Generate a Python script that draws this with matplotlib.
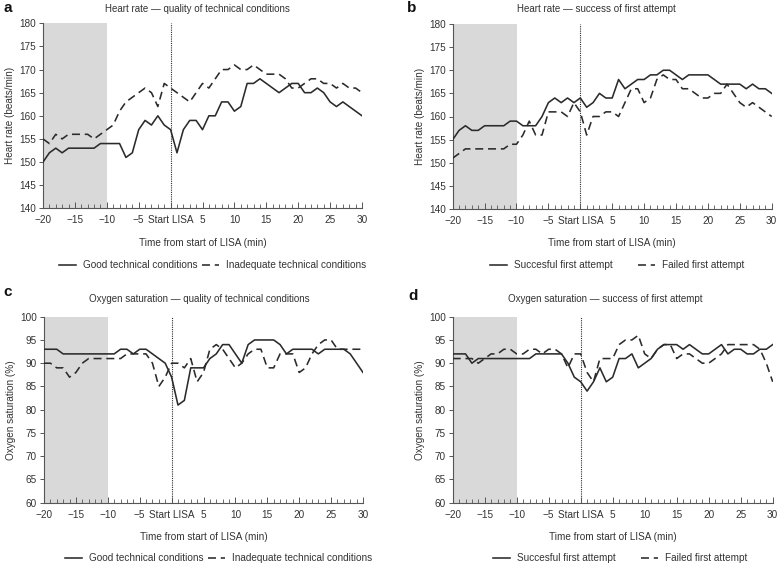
import numpy as np
import matplotlib
matplotlib.use('agg')
import matplotlib.pyplot as plt
from matplotlib.ticker import MultipleLocator

plt.rcParams['font.family'] = ['Liberation Sans', 'DejaVu Sans']

## time axis, one point per minute
minutes = list(range(-20, 31))
xtick_vals = [-20, -15, -10, -5, 0, 5, 10, 15, 20, 25, 30]
xtick_labels = ['\u221220', '\u221215', '\u221210', '\u22125', 'Start LISA', '5', '10', '15', '20', '25', '30']

## a -- heart rate, quality of technical conditions
hr_good = [150, 152, 153, 152, 153, 153, 153, 153, 153, 154, 154, 154, 154, 151, 152, 157, 159, 158, 160, 158,
           157, 152, 157, 159, 159, 157, 160, 160, 163, 163, 161, 162, 167, 167, 168, 167, 166, 165, 166, 167,
           167, 165, 165, 166, 165, 163, 162, 163, 162, 161, 160]
hr_inadequate = [155, 154, 156, 155, 156, 156, 156, 156, 155, 156, 157, 158, 161, 163, 164, 165, 166, 165, 162, 167,
                 166, 165, 164, 163, 165, 167, 166, 168, 170, 170, 171, 170, 170, 171, 170, 169, 169, 169, 168, 166,
                 166, 167, 168, 168, 167, 167, 166, 167, 166, 166, 165]

## b -- heart rate, success of first attempt
hr_success = [155, 157, 158, 157, 157, 158, 158, 158, 158, 159, 159, 158, 158, 158, 160, 163, 164, 163, 164, 163,
              164, 162, 163, 165, 164, 164, 168, 166, 167, 168, 168, 169, 169, 170, 170, 169, 168, 169, 169, 169,
              169, 168, 167, 167, 167, 167, 166, 167, 166, 166, 165]
hr_failed = [151, 152, 153, 153, 153, 153, 153, 153, 153, 154, 154, 156, 159, 156, 156, 161, 161, 161, 160, 163,
             161, 156, 160, 160, 161, 161, 160, 163, 166, 166, 163, 164, 168, 169, 168, 168, 166, 166, 165, 164,
             164, 165, 165, 167, 165, 163, 162, 163, 162, 161, 160]

## c -- oxygen saturation, quality of technical conditions
sat_good = [93, 93, 93, 92, 92, 92, 92, 92, 92, 92, 92, 92, 93, 93, 92, 93, 93, 92, 91, 90,
            87, 81, 82, 89, 89, 89, 91, 92, 94, 94, 92, 90, 94, 95, 95, 95, 95, 94, 92, 93,
            93, 93, 93, 92, 93, 93, 93, 93, 92, 90, 88]
sat_inadequate = [90, 90, 89, 89, 87, 88, 90, 91, 91, 91, 91, 91, 91, 92, 92, 92, 92, 90, 85, 87,
                  90, 90, 89, 91, 86, 88, 93, 94, 93, 91, 89, 90, 92, 93, 93, 89, 89, 92, 92, 92,
                  88, 89, 92, 94, 95, 95, 93, 93, 93, 93, 93]

## d -- oxygen saturation, success of first attempt
sat_success = [92, 92, 92, 90, 91, 91, 91, 91, 91, 91, 91, 91, 91, 92, 92, 92, 92, 92, 90, 87,
               86, 84, 86, 89, 86, 87, 91, 91, 92, 89, 90, 91, 93, 94, 94, 94, 93, 94, 93, 92,
               92, 93, 94, 92, 93, 93, 92, 92, 93, 93, 94]
sat_failed = [91, 91, 91, 91, 90, 91, 92, 92, 93, 93, 92, 92, 93, 93, 92, 93, 93, 92, 89, 92,
              92, 88, 86, 91, 91, 91, 94, 95, 95, 96, 92, 91, 93, 94, 94, 91, 92, 92, 91, 90,
              90, 91, 92, 94, 94, 94, 94, 94, 93, 90, 86]

W, H = 777.0, 566.0
line_col = '#2b2b2b'
text_col = '#333333'
fs = 6.6

fig = plt.figure(figsize=(W / 100, H / 100), dpi=100)


def make_panel(rect, letter, letter_xy, title, title_xy, ylabel, ylim, yvals1, yvals2,
               lab1, lab2, leg_xy, colspace):
    left, top, right, bottom = rect
    ax = fig.add_axes([left / W, 1 - bottom / H, (right - left) / W, (bottom - top) / H])
    ax.axvspan(-20, -10, color='#d9d9d9', lw=0, zorder=0)
    ax.axvline(0, color=line_col, ls=(0, (1, 1)), lw=0.8, zorder=1)
    ax.plot(minutes, yvals1, color=line_col, lw=1.15, label=lab1, zorder=3)
    ax.plot(minutes, yvals2, color=line_col, lw=1.15, ls=(0, (5, 3)), label=lab2, zorder=3)

    ax.set_xlim(-20, 30)
    ax.set_ylim(*ylim)
    ax.set_xticks(xtick_vals)
    ax.set_xticklabels(xtick_labels)
    ax.xaxis.set_minor_locator(MultipleLocator(1))
    ax.yaxis.set_major_locator(MultipleLocator(5))
    ax.tick_params(axis='x', which='both', direction='in', colors='#555555', labelcolor=text_col,
                   labelsize=fs + 0.6, pad=5)
    ax.tick_params(axis='x', which='major', length=4, width=0.7)
    ax.tick_params(axis='x', which='minor', length=3, width=0.6)
    ax.tick_params(axis='y', direction='out', length=3, width=0.7, colors='#555555',
                   labelcolor=text_col, labelsize=fs + 0.6, pad=2)
    for side in ['top', 'right']:
        ax.spines[side].set_visible(False)
    for side in ['left', 'bottom']:
        ax.spines[side].set_color('#555555')
        ax.spines[side].set_linewidth(0.8)

    ax.set_xlabel('Time from start of LISA (min)', fontsize=fs + 0.6, color=text_col, labelpad=9)
    ax.set_ylabel(ylabel, fontsize=fs + 0.6, color=text_col, labelpad=3)

    fig.text(letter_xy[0] / W, 1 - letter_xy[1] / H, letter, fontsize=11, fontweight='bold',
             ha='left', va='center', color='#111111')
    fig.text(title_xy[0] / W, 1 - title_xy[1] / H, title, fontsize=fs + 0.4, ha='center',
             va='center', color=text_col)

    leg = ax.legend(loc='center', bbox_to_anchor=(leg_xy[0] / W, 1 - leg_xy[1] / H),
                    bbox_transform=fig.transFigure, ncol=2, frameon=False, fontsize=fs + 0.6,
                    handlelength=1.7, columnspacing=colspace, handletextpad=0.7)
    for t in leg.get_texts():
        t.set_color(text_col)
    return ax


make_panel((43, 23.3, 362, 208.3), 'a', (4, 8), 'Heart rate \u2014 quality of technical conditions', (197, 9),
           'Heart rate (beats/min)', (140, 180), hr_good, hr_inadequate,
           'Good technical conditions', 'Inadequate technical conditions', (213, 265), 0.45)
make_panel((452.7, 24, 771.7, 209), 'b', (407, 8), 'Heart rate \u2014 success of first attempt', (596, 9),
           'Heart rate (beats/min)', (140, 180), hr_success, hr_failed,
           'Succesful first attempt', 'Failed first attempt', (617, 265), 2.5)
make_panel((44, 316.7, 363, 502.7), 'c', (3, 292), 'Oxygen saturation \u2014 quality of technical conditions',
           (199, 299), 'Oxygen saturation (%)', (60, 100), sat_good, sat_inadequate,
           'Good technical conditions', 'Inadequate technical conditions', (219, 558), 0.45)
make_panel((452.7, 316.7, 772.7, 502.7), 'd', (408, 296), 'Oxygen saturation \u2014 success of first attempt',
           (605, 299), 'Oxygen saturation (%)', (60, 100), sat_success, sat_failed,
           'Succesful first attempt', 'Failed first attempt', (620, 558), 2.5)

fig.savefig('out.png', dpi=100)
plt.close()
